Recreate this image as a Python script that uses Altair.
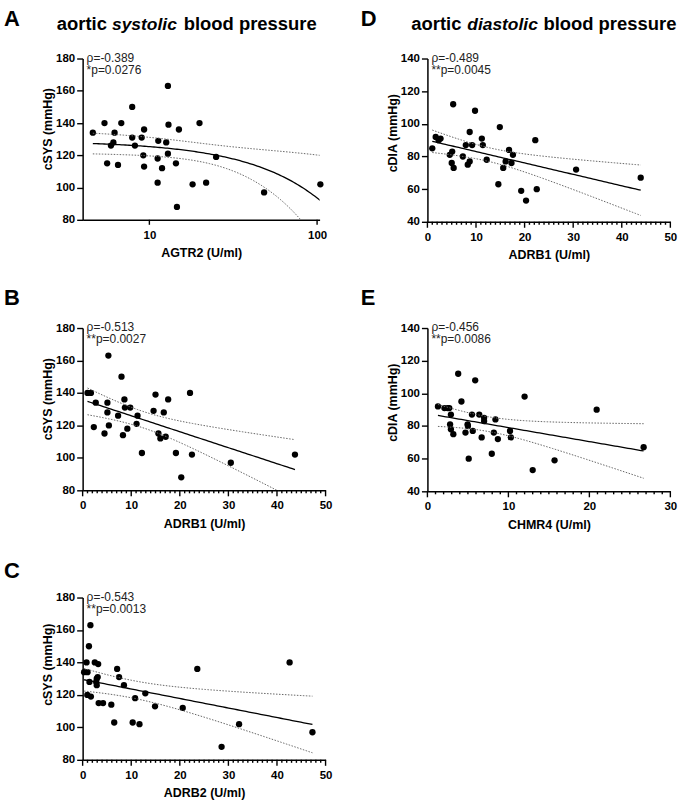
import altair as alt
import numpy as np
import pandas as pd

FONT = "Liberation Sans"

# ---- measurements (U/ml) and aortic pressures (mmHg) ----
agtr2 = [4.6, 5.4, 5.6, 6.2, 6.1, 5.9, 6.5, 6.8, 7.9, 7.9, 8.2, 9.3, 9.0, 9.2, 9.3, 11.3,
         11.2, 11.2, 12.9, 12.6, 13.0, 12.9, 11.9, 15.0, 14.4, 14.6, 18.1, 19.9, 21.8, 25.0,
         48.3, 104.6]
sys_agtr2 = [134, 140, 115, 134, 128, 126, 114, 140, 150, 131, 126, 136, 131, 120, 113, 129,
             118, 103, 163, 128, 139, 121, 112, 136, 115, 88, 102, 140, 103, 119, 97, 102]

adrb1_sys = [1.0, 1.7, 5.3, 8.0, 2.7, 5.1, 2.3, 5.1, 5.4, 4.5, 7.3, 8.3, 8.6, 8.7, 9.8, 9.2,
             11.3, 11.1, 12.2, 14.6, 15.0, 16.7, 17.6, 15.6, 16.0, 17.1, 19.2, 22.1, 22.5,
             20.3, 30.5, 43.7]
sys_adrb1 = [140, 140, 163, 150, 134, 134, 119, 128, 120, 115, 126, 114, 136, 131, 131, 118,
             126, 121, 103, 129, 139, 128, 136, 115, 112, 113, 103, 140, 102, 88, 97, 102]

adrb2 = [1.6, 1.3, 0.8, 2.5, 3.2, 0.3, 1.0, 1.4, 0.96, 1.7, 2.9, 2.9, 3.1, 3.3, 4.2, 5.9,
         6.5, 7.1, 7.5, 8.5, 10.8, 10.3, 11.7, 12.9, 14.9, 20.6, 23.6, 28.6, 32.2, 42.6,
         47.3, 2.8]
sys_adrb2 = [163, 150, 140, 140, 139, 134, 134, 128, 120, 119, 126, 130, 131, 115, 115, 114,
             103, 136, 131, 126, 118, 103, 102, 121, 113, 112, 136, 88, 102, 140, 97, 128]

adrb1_dia = [1.0, 1.7, 2.3, 2.7, 5.3, 4.6, 5.1, 5.0, 5.4, 7.3, 8.7, 7.9, 9.2, 8.3, 8.7, 9.8,
             11.2, 11.4, 12.2, 14.9, 14.6, 15.6, 16.1, 16.8, 17.6, 17.3, 19.3, 20.3, 22.2,
             22.5, 30.6, 43.9]
dia_adrb1 = [85, 92, 90, 91, 112, 81, 83, 76, 73, 80, 95, 87, 87, 75, 77, 108, 91, 87, 78, 98,
             63, 73, 77, 84, 81, 76, 59, 53, 90, 60, 72, 67]

chmr4 = [1.3, 2.1, 2.7, 2.9, 2.8, 2.9, 3.2, 3.8, 4.2, 4.7, 4.96, 5.0, 5.1, 5.5, 5.6, 5.9,
         6.4, 6.7, 7.0, 7.0, 7.95, 8.2, 8.4, 8.7, 10.2, 10.3, 12.0, 13.0, 15.7, 20.9, 26.7,
         2.5]
dia_chmr4 = [92, 91, 91, 87, 81, 78, 75, 112, 95, 76, 81, 80, 60, 87, 77, 108, 87, 73, 85, 83,
             63, 76, 84, 72, 77, 73, 98, 53, 59, 90, 67, 91]

# Spearman statistics printed in each panel
stats = {
    "A": ("ρ=-0.389", "*p=0.0276"),
    "B": ("ρ=-0.513", "**p=0.0027"),
    "C": ("ρ=-0.543", "**p=0.0013"),
    "D": ("ρ=-0.489", "**p=0.0045"),
    "E": ("ρ=-0.456", "**p=0.0086"),
}

# two-sided 95% Student t quantiles by degrees of freedom
T_975 = {29: 2.045, 30: 2.042}

MAJOR_LEN, MINOR_LEN = 6, 3


def regression(xv, yv, grid):
    """Least-squares line with its 95% confidence band."""
    x = np.asarray(xv, float)
    y = np.asarray(yv, float)
    n = len(x)
    slope, icpt = np.polyfit(x, y, 1)
    resid = y - (icpt + slope * x)
    s = np.sqrt((resid ** 2).sum() / (n - 2))
    sxx = ((x - x.mean()) ** 2).sum()
    fit = icpt + slope * grid
    half = T_975[n - 2] * s * np.sqrt(1 / n + (grid - x.mean()) ** 2 / sxx)
    return pd.DataFrame({"x": grid, "fit": fit, "lo": fit - half, "hi": fit + half})


ONE = pd.DataFrame({"k": [0]})


def label(text, x, y, size, weight="normal", style="normal", align="left",
          baseline="alphabetic", angle=0, color="black"):
    return alt.Chart(ONE).mark_text(
        text=text, font=FONT, fontSize=size, fontWeight=weight, fontStyle=style,
        align=align, baseline=baseline, angle=angle, color=color,
    ).encode(x=alt.value(x), y=alt.value(y))


def panel(xv, yv, xtitle, ytitle, ydomain, width, height, letter, letter_pos,
          ytitle_dy, log=False, xmax=50, header=None):
    if log:
        xscale = alt.Scale(type="log", domain=[4, 103.5])
        major_ticks, minor_ticks = [10, 100], []
        grid = np.geomspace(min(xv), max(xv), 120)
    else:
        xscale = alt.Scale(domain=[0, xmax], nice=False)
        major_ticks = list(range(0, xmax + 1, 10))
        minor_ticks = [v for v in range(0, xmax + 1) if v % 10]
        grid = np.linspace(min(xv), max(xv), 80)
    # the axis supplies line, labels and title; its tick strokes are drawn
    # by the rule layers below so that minor and major lengths can differ
    xaxis = alt.Axis(values=major_ticks, format="d", title=xtitle,
                     tickSize=MAJOR_LEN, tickOpacity=0)

    yscale = alt.Scale(domain=ydomain, nice=False)
    yaxis = alt.Axis(values=list(range(ydomain[0], ydomain[1] + 1, 20)),
                     tickSize=MAJOR_LEN, title=None, labelPadding=2)

    pts = pd.DataFrame({"x": xv, "y": yv})
    fdf = regression(xv, yv, grid)

    def xy(field):
        return dict(x=alt.X("x:Q", scale=xscale, axis=xaxis),
                    y=alt.Y(f"{field}:Q", scale=yscale, axis=yaxis))

    def tick_layer(values, length):
        return alt.Chart(pd.DataFrame({"x": values})).mark_rule(
            color="black", strokeWidth=1.4
        ).encode(x=alt.X("x:Q", scale=xscale, axis=xaxis),
                 y=alt.value(height), y2=alt.value(height + length))

    dots = alt.Chart(pts).mark_circle(size=40, color="black", opacity=1).encode(**xy("y"))
    fit = alt.Chart(fdf).mark_line(color="black", strokeWidth=1.3, clip=True).encode(
        **xy("fit"))
    band_style = dict(color="#666", strokeWidth=1, strokeDash=[1.5, 1.5], clip=True)
    lo = alt.Chart(fdf).mark_line(**band_style).encode(**xy("lo"))
    hi = alt.Chart(fdf).mark_line(**band_style).encode(**xy("hi"))

    rho, pval = stats[letter]
    layers = [dots, fit, lo, hi, tick_layer(major_ticks, 5 if log else MAJOR_LEN)]
    if minor_ticks:
        layers.append(tick_layer(minor_ticks, MINOR_LEN))
    layers += [
        label(rho, 4, 3, 12, color="#222"),
        label(pval, 4, 15.5, 12, color="#222"),
        label(ytitle, -31, height / 2 + ytitle_dy, 12.5, weight="bold",
              align="center", angle=270),
        label(letter, letter_pos[0], letter_pos[1], 22, weight="bold"),
    ]
    if header:
        for text, hx, style, size in header:
            layers.append(label(text, hx, -28.7, size, weight="bold", style=style))

    return alt.layer(*layers).properties(width=width, height=height)


pA = panel(agtr2, sys_agtr2, "AGTR2 (U/ml)", "cSYS (mmHg)", [80, 180], 238, 162, "A",
           (-79, -32.7), -10, log=True,
           header=[("aortic", -26, "normal", 18.5), ("systolic", 29.5, "italic", 17.5),
                   ("blood pressure", 101.5, "normal", 18.5)])
pB = panel(adrb1_sys, sys_adrb1, "ADRB1 (U/ml)", "cSYS (mmHg)", [80, 180], 244, 163, "B",
           (-79, -23.4), -10)
pC = panel(adrb2, sys_adrb2, "ADRB2 (U/ml)", "cSYS (mmHg)", [80, 180], 244, 163, "C",
           (-79, -20), -14)
pD = panel(adrb1_dia, dia_adrb1, "ADRB1 (U/ml)", "cDIA (mmHg)", [40, 140], 244, 164, "D",
           (-67, -32.7), -7,
           header=[("aortic", -16.2, "normal", 18.5), ("diastolic", 40, "italic", 17.5),
                   ("blood pressure", 116.5, "normal", 18.5)])
pE = panel(chmr4, dia_chmr4, "CHMR4 (U/ml)", "cDIA (mmHg)", [40, 140], 244, 164, "E",
           (-67, -22.7), -7, xmax=30)

chart = alt.concat(
    pA, pD, pB, pE, pC, columns=2, bounds="flush",
    spacing={"row": 106.7, "column": 102.3},
).properties(
    padding={"left": 4, "top": 6, "right": 5, "bottom": 5},
).configure_view(stroke=None).configure_axis(
    grid=False, labelFlush=False,
    domainColor="black", domainWidth=1.5,
    tickColor="black", tickWidth=1.4,
    labelFont=FONT, labelFontSize=11.5, labelFontWeight="bold", labelColor="black",
    titleFont=FONT, titleFontSize=12.5, titleFontWeight="bold", titleColor="black",
).configure_axisX(labelPadding=3.5, titlePadding=6)

chart.save("out.html", embed_options={"renderer": "svg", "actions": False})
